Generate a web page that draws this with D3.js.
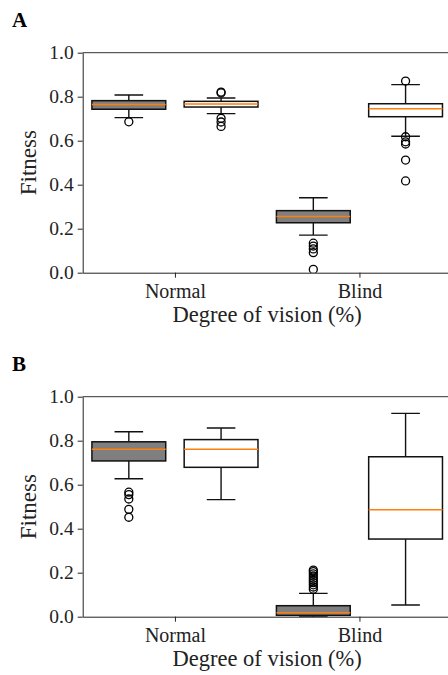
<!DOCTYPE html>
<html>
<head>
<meta charset="utf-8">
<script src="https://cdn.jsdelivr.net/npm/d3@7"></script>
<style>
  body { margin: 0; background: #fff; }
  svg { display: block; }
</style>
</head>
<body>
<svg id="chart" width="448" height="675"></svg>
<script>
const serif = "'Liberation Serif', 'Times New Roman', 'DejaVu Serif', serif";

// categories and box positions
const groups = ["Normal", "Blind"];
const groupPos = [1.5, 3.5];
const boxPos = [1, 2, 3, 4];
const boxFill = ["#7f7f7f", "#ffffff", "#7f7f7f", "#ffffff"];
const yTicks = [0, 0.2, 0.4, 0.6, 0.8, 1.0];

// panel A
const q1A = [0.743, 0.753, 0.227, 0.709];
const medA = [0.765, 0.767, 0.255, 0.745];
const q3A = [0.782, 0.779, 0.282, 0.768];
const loA = [0.705, 0.723, 0.171, 0.620];
const hiA = [0.808, 0.794, 0.341, 0.855];
const outA = [
  [0.686],
  [0.821, 0.817, 0.702, 0.685, 0.665],
  [0.134, 0.121, 0.108, 0.091, 0.015],
  [0.871, 0.618, 0.595, 0.585, 0.512, 0.417]
];

// panel B
const q1B = [0.708, 0.679, 0.006, 0.353];
const medB = [0.761, 0.761, 0.018, 0.486];
const q3B = [0.795, 0.805, 0.050, 0.727];
const loB = [0.627, 0.532, 0.000, 0.053];
const hiB = [0.841, 0.858, 0.106, 0.924];
const outB = [
  [0.566, 0.555, 0.535, 0.488, 0.452],
  [],
  [0.125, 0.135, 0.145, 0.155, 0.165, 0.175, 0.185, 0.195, 0.205, 0.212],
  []
];

const svg = d3.select("#chart");

function drawPanel(offsetY, label, q1, med, q3, lo, hi, outs) {
  const g = svg.append("g").attr("transform", `translate(0,${offsetY})`);
  const left = 82.7, right = 451.7, top = 52.7, bottom = 272.7;

  const x = d3.scaleLinear().domain([0.5, 4.5]).range([left, right]);
  const y = d3.scaleLinear().domain([0, 1]).range([bottom, top]);
  const unit = x(1) - x(0);
  const boxW = 0.8 * unit;
  const capW = 0.31 * unit;

  g.append("text")
    .attr("x", 12).attr("y", 27)
    .style("font-family", serif)
    .style("font-size", "21px").style("font-weight", "bold")
    .style("fill", "#000")
    .text(label);

  const plot = g.append("g");
  plot.append("clipPath").attr("id", "clip" + label)
    .append("rect").attr("x", left).attr("y", top)
    .attr("width", right - left).attr("height", bottom - top);
  const marks = plot.append("g").attr("clip-path", `url(#clip${label})`);

  boxPos.forEach((p, i) => {
    const cx = x(p);
    // whiskers
    marks.append("line")
      .attr("x1", cx).attr("x2", cx)
      .attr("y1", y(q3[i])).attr("y2", y(hi[i]))
      .attr("stroke", "#111").attr("stroke-width", 1.4);
    marks.append("line")
      .attr("x1", cx).attr("x2", cx)
      .attr("y1", y(q1[i])).attr("y2", y(lo[i]))
      .attr("stroke", "#111").attr("stroke-width", 1.4);
    [hi[i], lo[i]].forEach(v => {
      marks.append("line")
        .attr("x1", cx - capW / 2).attr("x2", cx + capW / 2)
        .attr("y1", y(v)).attr("y2", y(v))
        .attr("stroke", "#111").attr("stroke-width", 1.4);
    });
    // box
    marks.append("rect")
      .attr("x", cx - boxW / 2).attr("width", boxW)
      .attr("y", y(q3[i])).attr("height", y(q1[i]) - y(q3[i]))
      .attr("fill", boxFill[i])
      .attr("stroke", "#111").attr("stroke-width", 1.5);
    // median
    marks.append("line")
      .attr("x1", cx - boxW / 2).attr("x2", cx + boxW / 2)
      .attr("y1", y(med[i])).attr("y2", y(med[i]))
      .attr("stroke", "#ff7f0e").attr("stroke-width", 1.5);
    // outliers
    marks.selectAll(null).data(outs[i]).enter()
      .append("circle")
      .attr("cx", cx).attr("cy", d => y(d))
      .attr("r", 4)
      .attr("fill", "none")
      .attr("stroke", "#000").attr("stroke-width", 1.3);
  });

  // top spine
  g.append("line")
    .attr("x1", left).attr("x2", right)
    .attr("y1", top).attr("y2", top)
    .attr("stroke", "#333").attr("stroke-width", 1);

  // y axis
  const ya = g.append("g")
    .attr("transform", `translate(${left},0)`)
    .call(d3.axisLeft(y).tickValues(yTicks).tickFormat(d3.format(".1f"))
      .tickSize(5).tickSizeOuter(0).tickPadding(4));
  ya.attr("font-family", serif);
  ya.select(".domain").attr("stroke", "#222");
  ya.selectAll(".tick line").attr("stroke", "#222");
  ya.selectAll(".tick text").style("font-family", serif)
    .style("font-size", "19.5px").attr("fill", "#222");

  // x axis
  const xa = g.append("g")
    .attr("transform", `translate(0,${bottom})`)
    .call(d3.axisBottom(x).tickValues(groupPos).tickFormat((d, i) => groups[i])
      .tickSize(5).tickSizeOuter(0).tickPadding(6));
  xa.attr("font-family", serif);
  xa.select(".domain").attr("stroke", "#222");
  xa.selectAll(".tick line").attr("stroke", "#222");
  xa.selectAll(".tick text").style("font-family", serif)
    .style("font-size", "20px").attr("fill", "#222");

  g.append("text")
    .attr("x", (left + right) / 2).attr("y", 322)
    .attr("text-anchor", "middle")
    .style("font-family", serif)
    .style("font-size", "22.5px").style("fill", "#222")
    .text("Degree of vision (%)");

  g.append("text")
    .attr("transform", `translate(36,${(top + bottom) / 2}) rotate(-90)`)
    .attr("text-anchor", "middle")
    .style("font-family", serif)
    .style("font-size", "23px").style("fill", "#222")
    .text("Fitness");
}

drawPanel(0, "A", q1A, medA, q3A, loA, hiA, outA);
drawPanel(344, "B", q1B, medB, q3B, loB, hiB, outB);
</script>
</body>
</html>
